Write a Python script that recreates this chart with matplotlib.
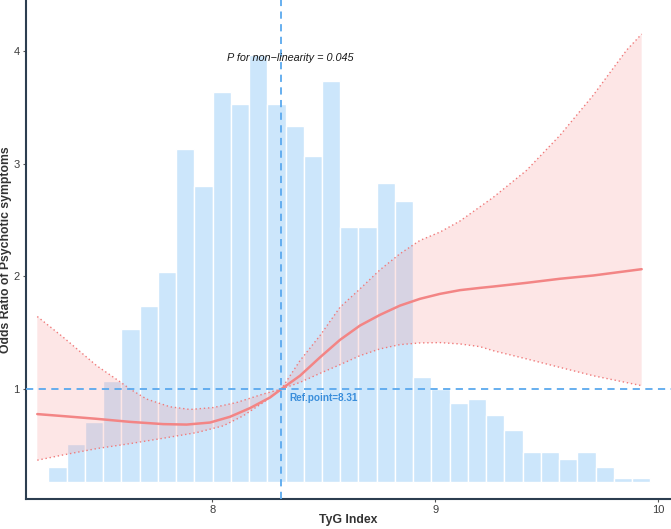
import matplotlib
matplotlib.use("Agg")
import matplotlib.pyplot as plt
import numpy as np

plt.rcParams['font.family'] = ['Liberation Sans', 'DejaVu Sans']

# Histogram (scaled onto OR axis)
bin_left = 7.264
bin_width = 0.0819
hist_base = 0.18
hist_tops = [0.309, 0.511, 0.709, 1.074, 1.536, 1.738, 2.034, 3.133, 2.80, 3.63,
             3.53, 3.96, 3.53, 3.33, 3.07, 3.73, 2.44, 2.44, 2.83, 2.67,
             1.11, 1.0, 0.875, 0.908, 0.77, 0.64, 0.443, 0.443, 0.377, 0.443,
             0.309, 0.211, 0.211]

# Spline OR curve
curve_x = [7.2145, 7.3312, 7.4811, 7.6306, 7.7801, 7.8851, 7.9897, 8.0794, 8.1692,
           8.259, 8.31, 8.3936, 8.4834, 8.5731, 8.6629, 8.7527, 8.8425, 8.9322,
           9.022, 9.1118, 9.2015, 9.2612, 9.4111, 9.5606, 9.7101, 9.9273]
curve_y = [0.778, 0.760, 0.736, 0.709, 0.689, 0.685, 0.703, 0.754, 0.831,
           0.925, 1.0, 1.118, 1.281, 1.436, 1.563, 1.658, 1.740, 1.800,
           1.844, 1.877, 1.897, 1.909, 1.942, 1.978, 2.007, 2.063]

upper_x = [7.2145, 7.3312, 7.4811, 7.5857, 7.6306, 7.7056, 7.8097, 7.9, 8.0045,
           8.1095, 8.2289, 8.31, 8.3936, 8.4834, 8.5731, 8.6629, 8.7527, 8.8425,
           8.9322, 9.022, 9.1118, 9.2612, 9.4111, 9.5606, 9.7101, 9.86, 9.9273]
upper_y = [1.643, 1.459, 1.207, 1.065, 1.0, 0.911, 0.843, 0.819, 0.836,
           0.881, 0.956, 1.0, 1.252, 1.474, 1.725, 1.888, 2.057, 2.200,
           2.318, 2.392, 2.490, 2.700, 2.940, 3.250, 3.606, 4.006, 4.148]

lower_x = [7.2145, 7.3312, 7.4811, 7.6306, 7.7801, 7.930, 8.0494, 8.1391, 8.2289,
           8.31, 8.3936, 8.4834, 8.5731, 8.6629, 8.7527, 8.8425, 8.9322, 9.022,
           9.1118, 9.2015, 9.2612, 9.4111, 9.5606, 9.7101, 9.9273]
lower_y = [0.369, 0.416, 0.472, 0.516, 0.564, 0.614, 0.674, 0.763, 0.881,
           1.0, 1.059, 1.139, 1.216, 1.296, 1.356, 1.394, 1.409, 1.412,
           1.400, 1.376, 1.340, 1.267, 1.192, 1.118, 1.030]

ref_point = 8.31
p_text = "P for non\u2212linearity = 0.045"

W, H = 671, 529
fig = plt.figure(figsize=(W / 100, H / 100), dpi=100)
ax_l, ax_b = 25.7, 499
ax = fig.add_axes([ax_l / W, 1 - ax_b / H, 1 - ax_l / W, ax_b / H])

ax.set_xlim(7.1625, 10.059)
ax.set_ylim(0.025, 4.45)

lefts = [bin_left + i * bin_width for i in range(len(hist_tops))]
ax.bar(lefts, [t - hist_base for t in hist_tops], width=bin_width, bottom=hist_base,
       align='edge', color='#CCE6FB', edgecolor='white', linewidth=1.0, zorder=1)

# CI ribbon (polygon between the read bounds)
poly_x = list(upper_x) + list(lower_x[::-1])
poly_y = list(upper_y) + list(lower_y[::-1])
ax.fill(poly_x, poly_y, color='#F8A0A0', alpha=0.26, linewidth=0, zorder=2)
ax.plot(upper_x, upper_y, linestyle=(0, (1, 2)), color='#F07A7A', linewidth=1.0, zorder=3)
ax.plot(lower_x, lower_y, linestyle=(0, (1, 2)), color='#F07A7A', linewidth=1.0, zorder=3)
ax.plot(curve_x, curve_y, color='#F38585', linewidth=1.8, zorder=4,
        solid_capstyle='round', solid_joinstyle='round')

ax.axhline(1.0, color='#5AA9EE', linestyle=(0, (4, 3)), linewidth=1.3, zorder=5)
ax.axvline(ref_point, color='#5AA9EE', linestyle=(0, (4, 3)), linewidth=1.3, zorder=5)

ax.text(8.35, 3.935, p_text, style='italic', fontsize=7.8, ha='center', va='center',
        color='#1a1a1a', zorder=6)
ax.text(8.345, 0.925, "Ref.point=8.31", fontweight='bold', fontsize=7.2, ha='left',
        va='center', color='#3A8EDB', zorder=6)

ax.set_xticks([8, 9, 10])
ax.set_yticks([1, 2, 3, 4])
ax.tick_params(axis='both', labelsize=8, colors='#555555', length=2.5, width=0.8,
               labelcolor='#3d3d3d', pad=2)
ax.set_xlabel("TyG Index", fontweight='bold', fontsize=8.8, color='#333333')
ax.set_ylabel("Odds Ratio of Psychotic symptoms", fontweight='bold', fontsize=8.8,
              color='#333333')
ax.yaxis.set_label_coords(-14.0 / (W - ax_l), 0.5)
ax.xaxis.set_label_coords(0.5, -15.5 / ax_b)

for s in ['top', 'right']:
    ax.spines[s].set_visible(False)
for s in ['left', 'bottom']:
    ax.spines[s].set_color('#2C3E50')
    ax.spines[s].set_linewidth(1.5)

fig.savefig("out.png", dpi=100)
